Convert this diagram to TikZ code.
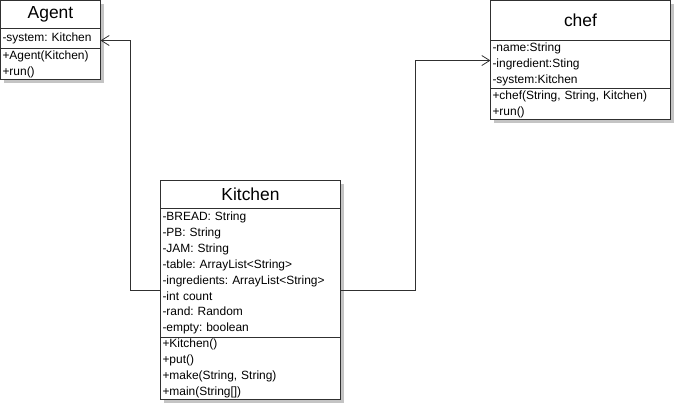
\documentclass[tikz,border=0pt]{standalone}
\usepackage{fontspec}
\setmainfont{Liberation Sans}
\usepackage{tikz}
\usetikzlibrary{positioning,arrows.meta,backgrounds}
\definecolor{umlLine}{HTML}{303030}
\definecolor{umlShade}{HTML}{C4C4C4}
\tikzset{
  clsHead/.style 2 args={ draw=umlLine, fill=white, line width=1bp, outer sep=0bp, inner xsep=2bp, inner ysep=0bp,
    text width=#1, minimum height=#2, align=center, font=\fontsize{17.5}{20}\selectfont }
}
\tikzset{
  clsBody/.style 2 args={ draw=umlLine, fill=white, line width=1bp, outer sep=0bp, inner xsep=2bp, inner ysep=1bp,
    text width=#1, minimum height=#2, align=left, font=\frenchspacing\fontsize{12}{16}\selectfont }
}
\tikzset{
  clsShadow/.style={ fill=umlShade }
}
\tikzset{
  assoc/.style={ draw=umlLine, line width=1bp, -{Straight Barb[length=8bp,width=10bp,line width=0.8bp]} }
}

\begin{document}
\begin{tikzpicture}[x=1bp, y=-1bp]
  \useasboundingbox (0,0) rectangle (675,405);
  % Agent
  \node[clsHead={96bp}{28bp}, anchor=north west] (agentT) at (0.5, 0.5) {Agent};
  \node[clsBody={96bp}{20bp}, below=0bp of agentT] (agentA) {-system: Kitchen};
  \node[clsBody={96bp}{31bp}, below=0bp of agentA] (agentM) {+Agent(Kitchen)\\+run()};

  % chef
  \node[clsHead={176bp}{40bp}, anchor=north west] (chefT) at (490.5, 0.5) {chef};
  \node[clsBody={176bp}{48bp}, below=0bp of chefT] (chefA) {-name:String\\-ingredient:Sting\\-system:Kitchen};
  \node[clsBody={176bp}{31bp}, below=0bp of chefA] (chefM) {+chef(String, String, Kitchen)\\+run()};

  % Kitchen
  \node[clsHead={176bp}{28bp}, anchor=north west] (kitT) at (160.5, 180.5) {Kitchen};
  \node[clsBody={176bp}{129bp}, below=0bp of kitT] (kitA) {-BREAD: String\\-PB: String\\-JAM: String\\-table: ArrayList<String>\\-ingredients: ArrayList<String>\\-int count\\-rand: Random\\-empty: boolean};
  \node[clsBody={176bp}{62bp}, below=0bp of kitA] (kitM) {+Kitchen()\\+put()\\+make(String, String)\\+main(String[])};

  % shadows
  \begin{scope}[on background layer]
    \fill[clsShadow] ([xshift=3.5bp,yshift=-3.5bp]agentT.north west) rectangle ([xshift=3.5bp,yshift=-3.5bp]agentM.south east);
    \fill[clsShadow] ([xshift=3.5bp,yshift=-3.5bp]chefT.north west) rectangle ([xshift=3.5bp,yshift=-3.5bp]chefM.south east);
    \fill[clsShadow] ([xshift=3.5bp,yshift=-3.5bp]kitT.north west) rectangle ([xshift=3.5bp,yshift=-3.5bp]kitM.south east);
  \end{scope}

  \draw[assoc] ([yshift=-17.5bp]kitA.west) -- ++(-30bp,0) |- ([yshift=-2bp]agentA.east);
  \draw[assoc] ([yshift=-17.5bp]kitA.east) -- ++(75bp,0) |- ([yshift=4bp]chefA.west);
\end{tikzpicture}
\end{document}
